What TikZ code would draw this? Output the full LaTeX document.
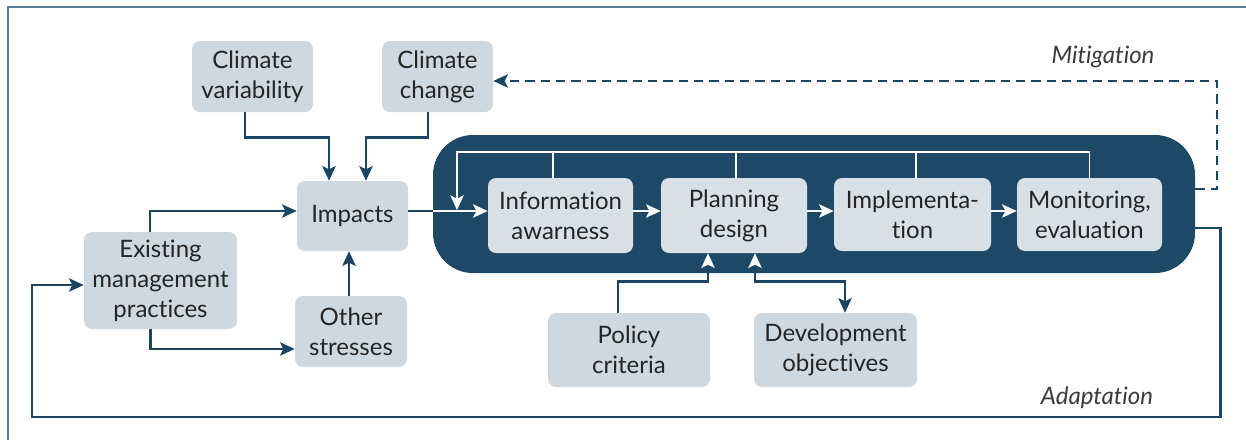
\documentclass[tikz,border=0pt]{standalone}
\usepackage{fontspec}
\setmainfont{Lato}[Ligatures=NoCommon]
\usetikzlibrary{arrows.meta,calc}
\definecolor{boxc}{HTML}{CDD8E0}
\definecolor{inboxc}{HTML}{D8DFE5}
\definecolor{panelc}{HTML}{1E4966}
\definecolor{linec}{HTML}{1B4563}
\definecolor{framec}{HTML}{5B7D96}
\definecolor{txtc}{HTML}{252525}
\begin{document}
\begin{tikzpicture}[x=0.75pt,y=-0.75pt,
  bx/.style 2 args={minimum width=#1*0.75pt, minimum height=#2*0.75pt, inner sep=0pt},
  box/.style={fill=boxc, rounded corners=6pt, align=center, text=txtc,
    font=\fontsize{18}{22.5}\selectfont},
  inbox/.style={box, fill=inboxc},
  ar/.style={draw=linec, line width=2pt, -{Stealth[length=11pt,width=10pt,inset=2.5pt]}},
  arthin/.style={draw=linec, line width=1.2pt, -{Stealth[length=11pt,width=10pt,inset=2.5pt]}},
  dk/.style={draw=linec, line width=2pt},
  wt/.style={draw=white, line width=1.4pt},
  wtar/.style={wt, -{Stealth[length=11pt,width=10pt,inset=2.5pt]}},
  lbl/.style={font=\fontsize{18}{22}\selectfont\itshape, text=txtc!90}]
\useasboundingbox (0,0) rectangle (1246,440);
\draw[framec, line width=1.1pt] (8,440) -- (8,7) -- (1246,7);

% panel
\node (panel) [fill=panelc, rounded corners=30pt, bx={762}{138}] at (814,204) {};

% outer boxes
\node (cv) [box, bx={121}{71}] at (252.5,76.5) {Climate\\variability};
\node (cc) [box, bx={111}{71}] at (437.5,76.5) {Climate\\change};
\node (imp) [box, bx={111}{70}] at (352.5,216) {\raisebox{3pt}{Impacts}};
\node (emp) [box, bx={153}{97}] at (160.5,280.5) {Existing\\management\\practices};
\node (os) [box, bx={112}{71}] at (351,331.5) {Other\\stresses};
\node (pc) [box, bx={162}{74}] at (629,350) {Policy\\criteria};
\node (do) [box, bx={163}{74}] at (835.5,350) {Development\\objectives};

% inner boxes
\node (info) [inbox, bx={145}{75}] at (560.5,215.5) {Information\\awarness};
\node (plan) [inbox, bx={146}{75}] at (734,215.5) {Planning\\design};
\node (impl) [inbox, bx={157}{73}] at (912.5,214.5) {Implementa-\\tion};
\node (mon) [inbox, bx={145}{73}] at (1089.5,214.5) {Monitoring,\\evaluation};

% labels
\node (mit) [lbl] at (1103,57) {Mitigation};
\node (ada) [lbl] at (1097,398) {Adaptation};

% connectors to impacts
\draw[ar] ($(cv.south)+(-7.5,0)$) -- ++(0,25) -| ($(imp.north)+(-23.5,0)$);
\draw[ar] ($(cc.south)+(-9.5,0)$) -- ++(0,25) -| ($(imp.north)+(13.5,0)$);
\draw[arthin] ($(emp.north)+(-10.5,0)$) |- ($(imp.west)+(0,-5)$);
\draw[ar] ($(emp.south)+(-10,0)$) |- ($(os.west)+(0,17.5)$);
\draw[ar] ($(os.north)+(-2,0)$) coordinate (t) -- (t |- imp.south);

% impacts -> info
\coordinate (L) at ($(imp.east)+(0,-5)$);
\draw[dk] (L) -- (L -| panel.west);
\draw[wtar] (L -| panel.west) -- (L -| info.west);
\draw[wtar] (L -| info.east) -- (L -| plan.west);
\draw[wtar] (L -| plan.east) -- (L -| impl.west);
\draw[wtar] (L -| impl.east) -- (L -| mon.west);

% feedback line
\coordinate (fbtop) at (457,152);
\draw[wtar] (mon.north) |- (fbtop) -- ($(fbtop |- L)+(0,-1)$);
\draw[wt] ($(info.north)+(-7.5,0)$) coordinate (b1) -- (b1 |- fbtop);
\draw[wt] ($(plan.north)+(2,0)$) coordinate (b2) -- (b2 |- fbtop);
\draw[wt] ($(impl.north)+(3.5,0)$) coordinate (b3) -- (b3 |- fbtop);

% policy and development
\draw[dk, -{Stealth[length=11pt,width=10pt,inset=2.5pt,color=white,fill=white]}]
  ($(pc.north)+(-11,0)$) -- ++(0,-31) -| ($(plan.south)+(-26,0)$);
\draw[dk, {Stealth[length=11pt,width=10pt,inset=2.5pt,color=white,fill=white]}-{Stealth[length=11pt,width=10pt,inset=2.5pt]}]
  ($(plan.south)+(21,0)$) |- ($(do.north)+(9.5,-31)$) -- ($(do.north)+(9.5,0)$);

% mitigation
\draw[draw=linec, line width=1.5pt, dash pattern=on 7pt off 4.5pt, -{Stealth[length=11pt,width=10pt,inset=2.5pt]}]
  ($(panel.east)+(0,-15)$) -- ++(22,0) |- ($(cc.east)+(0,4.5)$);

% adaptation
\coordinate (adL) at (32,417);
\draw[draw=linec, line width=2pt, -{Stealth[length=11pt,width=10pt,inset=2.5pt]}]
  ($(panel.east)+(0,24)$) -- ++(25,0) |- (adL) |- ($(emp.west)+(0,4.5)$);
\end{tikzpicture}
\end{document}
